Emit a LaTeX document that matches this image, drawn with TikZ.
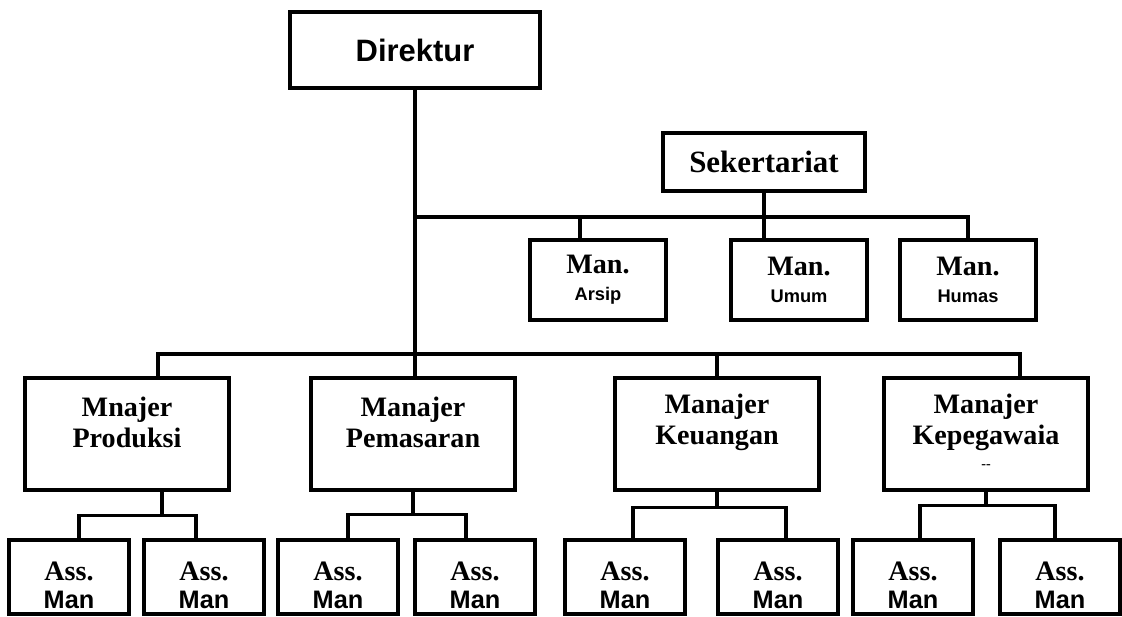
\documentclass[tikz,border=0pt]{standalone}
\usepackage{fontspec}
\setmainfont{Liberation Serif}
\setsansfont{Liberation Sans}
\usetikzlibrary{positioning}

\newcommand{\subline}[1]{{\sffamily\fontsize{13}{13}\selectfont #1}}
\newcommand{\assline}{Ass.\\{\sffamily\fontsize{18}{18}\selectfont Man}}

\begin{document}
\begin{tikzpicture}[on grid, line width=2.3pt,
    box/.style={draw, rectangle, inner sep=0pt},
    dirbox/.style={box, minimum width=6.25cm, minimum height=1.9cm,
      font=\sffamily\bfseries\fontsize{22}{26}\selectfont},
    sekbox/.style={box, minimum width=5.05cm, minimum height=1.45cm,
      font=\bfseries\fontsize{22}{26}\selectfont},
    staffbox/.style={box, align=center, minimum width=3.4cm, minimum height=2cm,
      font=\bfseries\fontsize{20}{19}\selectfont},
    mgrbox/.style={box, minimum width=5.1cm, minimum height=2.8cm},
    assbox/.style={box, minimum width=3cm, minimum height=1.85cm},
    mgrtext/.style={align=center, yshift=0.3cm, font=\bfseries\fontsize{20}{22}\selectfont},
    dashtext/.style={yshift=-0.82cm, font=\bfseries\fontsize{10}{10}\selectfont},
    asstext/.style={align=center, yshift=-0.2cm, font=\bfseries\fontsize{20}{20}\selectfont}]

  \useasboundingbox (0,0) rectangle (28.05,-15.425);

  \node[dirbox] (dir) at (10.375,-1.25) {Direktur};
  \node[sekbox] (sek) at (19.1,-4.05) {Sekertariat};

  \node[staffbox] (arsip) at (14.95,-7) {Man.\\\subline{Arsip}};
  \node[staffbox] (umum) [right=5.025cm of arsip] {Man.\\\subline{Umum}};
  \node[staffbox] (humas) [right=4.225cm of umum] {Man.\\\subline{Humas}};

  \node[mgrbox, label={[mgrtext]center:Mnajer\\Produksi}] (prod) at (3.175,-10.85) {};
  \node[mgrbox, label={[mgrtext]center:Manajer\\Pemasaran}] (pem) [right=7.15cm of prod] {};
  \node[mgrbox, label={[mgrtext]center:Manajer\\Keuangan}] (keu) [right=7.6cm of pem] {};
  \node[mgrbox, label={[mgrtext]center:Manajer\\Kepegawaia},
    label={[dashtext]center:-{}-}] (kep) [right=6.725cm of keu] {};

  \node[assbox, label={[asstext]center:\assline}] (a_11) at (1.725,-14.425) {};
  \node[assbox, label={[asstext]center:\assline}] (a_12) [right=3.375cm of a_11] {};
  \node[assbox, label={[asstext]center:\assline}] (a_21) [right=3.35cm of a_12] {};
  \node[assbox, label={[asstext]center:\assline}] (a_22) [right=3.425cm of a_21] {};
  \node[assbox, label={[asstext]center:\assline}] (a_31) [right=3.75cm of a_22] {};
  \node[assbox, label={[asstext]center:\assline}] (a_32) [right=3.825cm of a_31] {};
  \node[assbox, label={[asstext]center:\assline}] (a_41) [right=3.375cm of a_32] {};
  \node[assbox, label={[asstext]center:\assline}] (a_42) [right=3.675cm of a_41] {};

  \coordinate (hub) at (10.375,-8.85);
  \coordinate (s_bus) at (19.1,-5.425);

  \draw (dir) -- (hub);
  \draw (sek.south) -- (sek.south |- umum.north);
  \draw (dir |- s_bus) -| (humas.north);
  \draw ([xshift=-0.45cm]arsip.north) -- ([xshift=-0.45cm]arsip.north |- s_bus);

  \draw ([xshift=0.775cm]prod.north) |- (hub) -| ([xshift=0.85cm]kep.north);
  \draw (hub) -- (hub |- pem.north);
  \draw (keu.north) -- (keu.north |- hub);

  \draw ([xshift=0.875cm]prod.south) -- ++(0,-0.6) coordinate (b_1);
  \draw ([xshift=0.25cm]a_11.north) |- (b_1) -| ([xshift=-0.2cm]a_12.north);
  \draw (pem.south) -- ++(0,-0.575) coordinate (b_2);
  \draw ([xshift=0.25cm]a_21.north) |- (b_2) -| ([xshift=-0.225cm]a_22.north);
  \draw (keu.south) -- ++(0,-0.4) coordinate (b_3);
  \draw ([xshift=0.2cm]a_31.north) |- (b_3) -| ([xshift=0.2cm]a_32.north);
  \draw (kep.south) -- ++(0,-0.35) coordinate (b_4);
  \draw ([xshift=0.175cm]a_41.north) |- (b_4) -| ([xshift=-0.125cm]a_42.north);
\end{tikzpicture}
\end{document}
